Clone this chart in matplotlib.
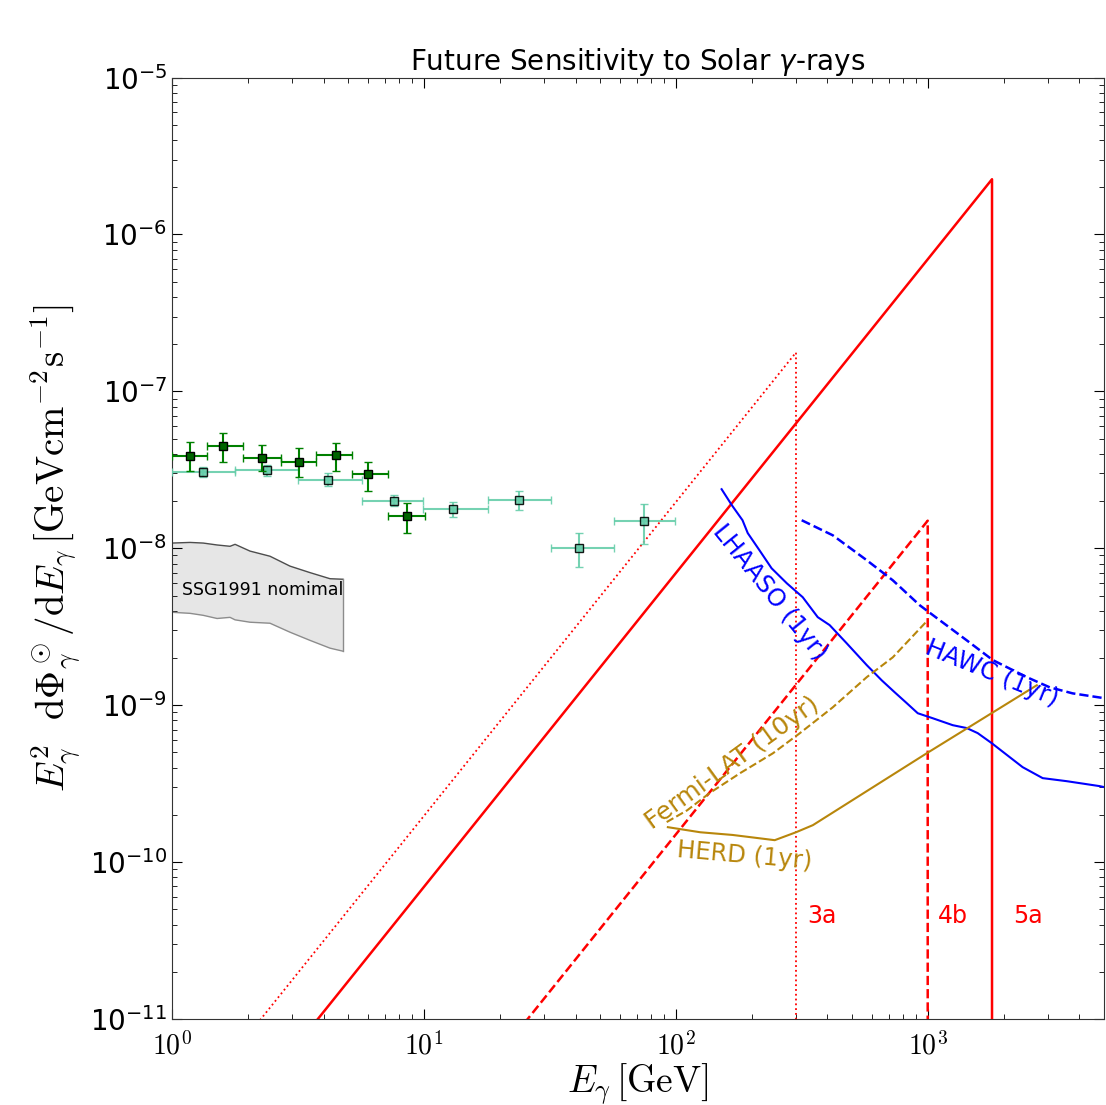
import numpy as np
import matplotlib
matplotlib.use("Agg")
import matplotlib.pyplot as plt

# Dark-green data points (energy, flux, error ranges)
dg_E = [1.18, 1.59, 2.28, 3.19, 4.48, 6.0, 8.57]
dg_E_lo = [1.0, 1.38, 1.91, 2.71, 3.73, 5.18, 7.2]
dg_E_hi = [1.38, 1.91, 2.71, 3.73, 5.18, 7.2, 10.1]
dg_F = [3.85e-8, 4.46e-8, 3.74e-8, 3.53e-8, 3.91e-8, 2.96e-8, 1.60e-8]
dg_F_lo = [3.09e-8, 3.53e-8, 3.09e-8, 2.83e-8, 3.09e-8, 2.31e-8, 1.26e-8]
dg_F_hi = [4.73e-8, 5.40e-8, 4.53e-8, 4.33e-8, 4.67e-8, 3.53e-8, 1.94e-8]

# Aquamarine data points
aq_E = [1.33, 2.38, 4.16, 7.6, 13.0, 23.8, 41.2, 74.6]
aq_E_lo = [1.0, 1.78, 3.16, 5.67, 9.9, 17.9, 31.9, 56.7]
aq_E_hi = [1.78, 3.16, 5.67, 9.9, 17.9, 31.9, 56.7, 99.0]
aq_F = [3.05e-8, 3.14e-8, 2.71e-8, 1.99e-8, 1.77e-8, 2.02e-8, 1.01e-8, 1.49e-8]
aq_F_lo = [2.83e-8, 2.88e-8, 2.48e-8, 1.85e-8, 1.58e-8, 1.75e-8, 7.57e-9, 1.06e-8]
aq_F_hi = [3.28e-8, 3.38e-8, 3.01e-8, 2.18e-8, 1.96e-8, 2.31e-8, 1.26e-8, 1.91e-8]

# SSG1991 nominal band
ssg_E = [1.0, 1.18, 1.33, 1.51, 1.70, 1.78, 2.04, 2.45, 2.94, 3.53, 4.24, 4.77]
ssg_hi = [1.08e-8, 1.09e-8, 1.08e-8, 1.05e-8, 1.03e-8, 1.06e-8, 9.6e-9, 8.9e-9,
          7.7e-9, 7.0e-9, 6.4e-9, 6.35e-9]
ssg_lo = [3.91e-9, 3.85e-9, 3.74e-9, 3.57e-9, 3.63e-9, 3.5e-9, 3.38e-9, 3.33e-9,
          2.92e-9, 2.59e-9, 2.31e-9, 2.21e-9]

# Model spectra with cutoffs (3a, 4b, 5a)
m3a_E = [1.0, 300.0, 300.0]
m3a_F = [1.97e-12, 1.77e-7, 1e-13]
m4b_E = [1.0, 1000.0, 1000.0]
m4b_F = [1.5e-14, 1.5e-8, 1e-13]
m5a_E = [1.0, 1800.0, 1800.0]
m5a_F = [6.95e-13, 2.25e-6, 1e-13]

# Sensitivity curves
lhaaso_E = [152, 167, 184, 193, 215, 240, 276, 319, 366, 408, 477, 573, 657, 739,
            826, 913, 1047, 1257, 1429, 1579, 1795, 2115, 2381, 2860, 3562, 4815, 5000]
lhaaso_F = [2.38e-8, 1.88e-8, 1.51e-8, 1.25e-8, 9.7e-9, 7.46e-9, 5.98e-9, 4.88e-9,
            3.64e-9, 3.24e-9, 2.48e-9, 1.80e-9, 1.44e-9, 1.21e-9, 1.03e-9, 8.89e-10,
            8.26e-10, 7.46e-10, 7.15e-10, 6.64e-10, 5.73e-10, 4.67e-10, 4.03e-10,
            3.43e-10, 3.28e-10, 3.05e-10, 3.01e-10]
hawc_E = [316, 420, 573, 727, 929, 1116, 1429, 1812, 2472, 3050, 3760, 4815, 5000]
hawc_F = [1.51e-8, 1.21e-8, 8.39e-9, 6.25e-9, 4.34e-9, 3.48e-9, 2.59e-9, 1.94e-9,
          1.51e-9, 1.30e-9, 1.19e-9, 1.12e-9, 1.11e-9]
fermi_E = [92, 111, 136, 180, 243, 311, 420, 573, 727, 1000]
fermi_F = [1.80e-10, 2.14e-10, 2.75e-10, 3.69e-10, 4.94e-10, 6.64e-10, 9.70e-10,
           1.51e-9, 2.02e-9, 3.48e-9]
herd_E = [93, 125, 168, 247, 300, 350, 991, 2710]
herd_F = [1.67e-10, 1.55e-10, 1.49e-10, 1.38e-10, 1.55e-10, 1.72e-10, 4.94e-10, 1.34e-9]

xtick_vals = [1, 10, 100, 1000]
xtick_text = [r'$10^{0}$', r'$10^{1}$', r'$10^{2}$', r'$10^{3}$']
ytick_vals = [1e-11, 1e-10, 1e-9, 1e-8, 1e-7, 1e-6, 1e-5]
ytick_text = [r'$\mathregular{10^{-11}}$', r'$\mathregular{10^{-10}}$',
              r'$\mathregular{10^{-9}}$', r'$\mathregular{10^{-8}}$',
              r'$\mathregular{10^{-7}}$', r'$\mathregular{10^{-6}}$',
              r'$\mathregular{10^{-5}}$']

gold = 'darkgoldenrod'

fig = plt.figure(figsize=(11.06, 11.05), dpi=100)
ax = fig.add_axes([0.1555, 0.0778, 0.8425, 0.852])
ax.set_xscale('log')
ax.set_yscale('log')

# SSG1991 band
ax.fill_between(ssg_E, ssg_lo, ssg_hi, facecolor='#e6e6e6', edgecolor='none', zorder=1)
ax.plot(ssg_E, ssg_hi, color='0.3', lw=1.0, zorder=2)
ax.plot(ssg_E, ssg_lo, color='0.55', lw=1.0, zorder=2)
ax.plot([ssg_E[-1], ssg_E[-1]], [ssg_lo[-1], ssg_hi[-1]], color='0.55', lw=1.0, zorder=2)
ax.text(1.096, 5.4e-9, 'SSG1991 nomimal', fontsize=12.5, va='center', ha='left')

# data points
aq_E = np.array(aq_E); aq_F = np.array(aq_F)
ax.errorbar(aq_E, aq_F,
            xerr=[aq_E - np.array(aq_E_lo), np.array(aq_E_hi) - aq_E],
            yerr=[aq_F - np.array(aq_F_lo), np.array(aq_F_hi) - aq_F],
            fmt='s', color='mediumaquamarine', ecolor='mediumaquamarine', elinewidth=1.5,
            capsize=3, capthick=3.5, ms=5.5, mec='black', mew=1.0, alpha=0.9, zorder=4)
dg_E = np.array(dg_E); dg_F = np.array(dg_F)
ax.errorbar(dg_E, dg_F,
            xerr=[dg_E - np.array(dg_E_lo), np.array(dg_E_hi) - dg_E],
            yerr=[dg_F - np.array(dg_F_lo), np.array(dg_F_hi) - dg_F],
            fmt='s', color='darkgreen', ecolor='green', elinewidth=1.5,
            capsize=3, capthick=3.5, ms=6, mec='black', mew=1.0, zorder=5)

# model spectra
ax.plot(m3a_E, m3a_F, color='red', ls=':', lw=1.3, zorder=3)
ax.plot(m4b_E, m4b_F, color='red', ls='--', lw=1.8, zorder=3)
ax.plot(m5a_E, m5a_F, color='red', ls='-', lw=1.8, zorder=3)
ax.text(334, 4.53e-11, '3a', color='red', fontsize=17, va='center')
ax.text(1096, 4.53e-11, '4b', color='red', fontsize=17, va='center')
ax.text(2174, 4.53e-11, '5a', color='red', fontsize=17, va='center')

# sensitivities
ax.plot(lhaaso_E, lhaaso_F, color='blue', lw=1.5, zorder=3)
ax.plot(hawc_E, hawc_F, color='blue', ls='--', lw=1.8, zorder=3)
ax.plot(fermi_E, fermi_F, color=gold, ls='--', lw=1.5, zorder=3)
ax.plot(herd_E, herd_F, color=gold, ls='-', lw=1.5, zorder=3)
ax.text(236, 5.25e-9, 'LHAASO (1yr)', color='blue', fontsize=17.5, rotation=-51,
        ha='center', va='center', rotation_mode='anchor')
ax.text(1795, 1.60e-9, 'HAWC (1yr)', color='blue', fontsize=17.5, rotation=-22,
        ha='center', va='center', rotation_mode='anchor')
ax.text(168, 4.3e-10, 'Fermi-LAT (10yr)', color=gold, fontsize=18, rotation=36,
        ha='center', va='center', rotation_mode='anchor')
ax.text(188, 1.09e-10, 'HERD (1yr)', color=gold, fontsize=17.5, rotation=-5,
        ha='center', va='center', rotation_mode='anchor')

ax.set_xlim(1, 5000)
ax.set_ylim(1e-11, 1e-5)
ax.set_xticks(xtick_vals, xtick_text)
ax.set_yticks(ytick_vals, ytick_text)
for lbl in ax.get_xticklabels():
    lbl.set_math_fontfamily('cm')
ax.tick_params(which='both', direction='in', top=True, right=True, labelsize=20)
ax.tick_params(which='major', length=7, width=0.8)
ax.tick_params(which='minor', length=3.5, width=0.6)
ax.tick_params(axis='x', pad=9)
for sp in ax.spines.values():
    sp.set_color('0.2')
    sp.set_linewidth(0.8)

ax.set_title(r'Future Sensitivity to Solar $\gamma$-rays', fontsize=20, pad=5)
ax.set_xlabel(r'$E_\gamma\,[\mathrm{GeV}]$', fontsize=27, math_fontfamily='cm', labelpad=1)
ax.set_ylabel(r'$E_\gamma^2\ \ \mathrm{d}\Phi_\gamma^\odot/\mathrm{d}E_\gamma\,'
              r'[\mathrm{GeV cm^{-2} s^{-1}}]$', fontsize=28, math_fontfamily='cm',
              labelpad=6)

fig.savefig('out.png', dpi=100)
